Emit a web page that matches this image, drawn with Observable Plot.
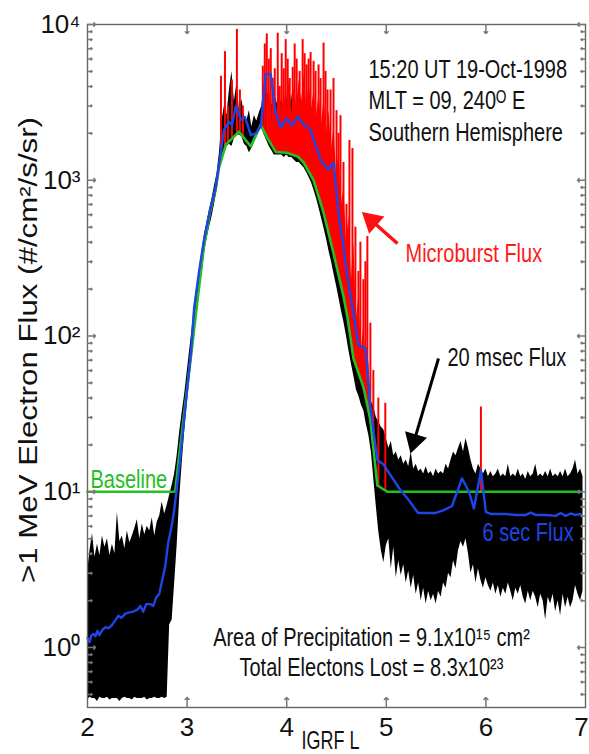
<!DOCTYPE html>
<html><head><meta charset="utf-8">
<script src="https://cdn.jsdelivr.net/npm/d3@7"></script>
<script src="https://cdn.jsdelivr.net/npm/@observablehq/plot@0.6"></script>
<style>body{margin:0;background:#fff}</style>
</head><body><div id="chart"></div>
<script>
// ---- 20 msec flux envelope, sampled every 0.025 L starting at L = 2.0 ----
const L20Start = 2.0, L20Step = 0.025;
const flux20Hi = [
  3.0,4.2,5.4,3.8,4.6,3.9,5.2,4.4,5.0,3.9,4.6,4.0,7.4,4.8,5.2,4.3,5.6,4.7,5.2,5.8,6.6,5.0,6.2,5.3,6.0,5.6,6.8,5.2,6.4,7.0,8.6,7.2,8.2,
  9.5,11,13,17,24,32,42,58,
  80,110,160,210,270,350,450,540,650,760,920,1100,
  1500,2400,3000,2600,3800,5000,3200,4200,2800,3300,2600,2400,2800,2200,2600,2400,2700,3000,4200,3800,3400,3000,3600,3200,2800,3400,2900,3500,
  2600,3600,2500,2700,2300,2200,2000,1800,1600,1500,1300,1150,1000,850,720,600,500,420,360,300,250,210,180,150,130,110,100,85,70,60,52,45,40,38,35,30,28,26,25,22,
  19,21,17,18,16,17,15,16,14.5,18,14,15,13.5,14,13,14.5,13,13.5,12.5,14,13,13.5,13,15,14,16,18,17,19,21,18,22,19,16,14,13,15,14,13,14,
  12.5,13.5,12.5,13,14,12.5,13,12.5,15,12.5,13,12.5,14,12.5,13,12,13.5,12.5,13,15,12.5,13,12.5,13.5,12.5,14,12.5,13,12.5,13.5,12.5,14,12.5,13,14,16,13,14,12.5
];
const flux20Lo = [
  0.46,0.48,0.47,0.47,0.45,0.48,0.47,0.47,0.48,0.46,0.47,0.47,0.47,0.45,0.47,0.48,0.47,0.47,0.46,0.48,0.47,0.47,0.47,0.48,0.46,0.47,0.47,0.48,0.47,0.47,0.48,0.47,0.48,
  1.4,1.5,2.6,4.5,9,15,24,36,
  52,72,105,140,190,250,340,420,500,580,700,850,
  1150,1350,1550,1650,1700,1650,1850,1950,1950,1900,1700,1650,1500,1600,1750,1900,2150,2150,1950,1800,1650,1550,1450,1450,1450,1450,1400,1450,
  1400,1400,1350,1300,1300,1250,1200,1120,1040,960,860,760,
  660,570,490,420,350,300,250,210,175,145,122,100,80,66,55,45,41,36,33,27,23,18,12,8,5.5,4.2,3.5,4.5,
  5.0,3.2,4.4,2.8,3.6,2.9,3.4,2.6,3.1,2.4,2.9,2.2,2.6,2.0,2.4,1.9,2.3,2.0,2.2,1.9,2.3,2.1,2.6,2.4,3.0,2.8,3.6,3.2,4.2,4.8,4.4,5.0,4.0,3.0,3.4,2.6,3.2,2.7,2.4,2.8,
  2.5,2.3,2.6,2.2,2.5,2.1,2.4,2.2,2.6,2.3,2.0,2.4,2.2,2.5,2.1,1.9,2.3,2.0,2.3,2.1,1.8,2.2,2.0,1.5,2.1,1.9,2.2,1.7,2.0,1.6,2.2,1.8,2.1,1.8,2.0,2.5,2.2,2.0,2.3
];

// ---- 6 sec flux (blue) ----
const L6 = [2.00,2.02,2.04,2.06,2.08,2.10,2.12,2.15,2.18,2.21,2.24,2.28,2.31,2.34,2.38,2.42,2.46,2.50,2.53,2.56,2.59,2.63,2.66,2.69,2.72,2.75,2.78,2.81,2.84,2.87,2.90,2.93,2.96,3.00,3.04,3.07,3.12,3.17,3.23,3.29,3.32,3.37,3.42,3.45,3.49,3.54,3.58,3.64,3.69,3.74,3.79,3.84,3.89,3.94,4.00,4.05,4.11,4.17,4.24,4.34,4.42,4.47,4.52,4.57,4.61,4.67,4.72,4.79,4.84,4.91,4.97,5.06,5.14,5.21,5.32,5.40,5.49,5.57,5.66,5.76,5.83,5.88,5.95,6.00,6.05,6.20,6.30,6.40,6.45,6.50,6.60,6.70,6.75,6.80,6.85,6.90,6.95];
const flux6 = [1.15,1.08,1.2,1.22,1.18,1.28,1.2,1.3,1.35,1.33,1.38,1.5,1.6,1.55,1.65,1.68,1.7,1.75,1.85,1.7,1.9,1.9,1.85,2.1,2.2,2.7,3.3,4.7,5.8,7.6,11,16,25,45,80,150,260,415,640,910,1250,2100,2380,2250,3000,2450,2550,1950,2000,2220,4800,4800,2700,2180,2500,2250,2560,2300,2100,1350,1170,1300,620,370,240,140,87,84,35,16,15,12.3,10.3,9.1,7.3,7.3,7.3,7.6,8.1,12.2,10,7.8,13.7,7.4,7.2,7.2,7.1,7.1,7.35,7.1,7.1,7.0,7.3,7.0,7.25,7.1,7.2];

// ---- Baseline (green) ----
const Lbase = [2.0,2.88,2.92,2.96,3.00,3.05,3.10,3.17,3.23,3.29,3.32,3.39,3.44,3.52,3.64,3.74,3.80,3.89,4.00,4.11,4.17,4.27,4.37,4.47,4.57,4.61,4.67,4.77,4.84,4.91,5.01,6.95];
const fluxBase = [10,10,17,28,46,85,160,380,620,900,1200,1700,1820,2050,1650,2270,1900,1520,1500,1420,1300,1000,620,340,180,132,72,47,29,11,10,10];

// ---- Microburst flux (red): isolated spikes and the dense part ----
const Lburst = [3.34,3.38,3.41,3.45,3.50,3.53,3.56,3.76,3.78,3.80,3.82,3.84,3.86,3.88,3.91,3.93,3.95,3.97,3.99,4.01,4.03,4.06,4.08,4.10,4.13,4.16,4.18,4.20,4.22,4.24,4.27,4.29,4.32,4.34,4.37,4.39,4.41,4.44,4.47,4.50,4.52,4.54,4.57,4.60,4.63,4.66,4.69,4.72,4.74,4.77,4.79,4.81,4.84,4.87,4.92,4.99,5.95];
const fluxBurst = [4650,6700,3000,4400,9300,3800,3000,5400,7500,8700,6000,7000,4500,5200,8800,4000,6500,5200,8000,6000,4500,5300,7500,6000,5000,8000,6500,5500,6000,6600,5800,5000,5500,4500,7600,5000,3800,3800,4500,2800,2000,2600,1300,700,1800,1600,500,260,400,230,300,435,121,60,40,37,35];
const LburstFill = [3.800,3.825,3.850,3.875,3.900,3.925,3.950,3.975,4.000,4.025,4.050,4.075,4.100,4.125,4.150,4.175,4.200,4.225,4.250,4.275,4.300,4.325,4.350,4.375,4.400,4.425,4.450,4.475,4.500,4.525,4.550,4.575,4.600,4.625,4.650,4.675,4.700,4.725,4.750,4.775,4.800,4.825,4.850,4.875,4.900];
const fluxBurstFill = [2600,4000,2400,3600,2500,4200,2600,3800,2800,4500,2700,4000,3000,4400,3200,4800,3000,4200,2900,3800,2600,3600,2300,3400,2000,2800,1600,2200,1100,1500,700,900,400,600,230,400,130,180,80,120,50,70,30,25,15];

// ---- axes / texts ----
const xTicks = [2,3,4,5,6,7];
const yTicks = [1,10,100,1000,10000];
const yDomain = [0.412, 10000];
const supDigits = ["⁰","¹","²","³","⁴"];
const yLabel = ">1 MeV Electron Flux (#/cm²/s/sr)";
const xLabel = "IGRF L";
const infoLines = ["15:20 UT 19-Oct-1998", "MLT = 09, 240ᴼ E", "Southern Hemisphere"];
const statLines = ["Area of Precipitation = 9.1x10¹⁵ cm²", "Total Electons Lost = 8.3x10²³"];
const seriesLabels = ["Microburst Flux", "20 msec Flux", "6 sec Flux", "Baseline"];

// ---- build tables ----
const d20 = flux20Hi.map((hi, i) => ({L: L20Start + i * L20Step, hi, lo: flux20Lo[i]}));
const six = L6.map((L, i) => ({L, flux: flux6[i]}));
const base = Lbase.map((L, i) => ({L, flux: fluxBase[i]}));
const baseAt = (L) => {
  const i = d3.bisectRight(Lbase, L);
  if (i <= 0) return fluxBase[0];
  if (i >= Lbase.length) return fluxBase[fluxBase.length - 1];
  const t = (L - Lbase[i - 1]) / (Lbase[i] - Lbase[i - 1]);
  return 10 ** (Math.log10(fluxBase[i - 1]) * (1 - t) + Math.log10(fluxBase[i]) * t);
};
const burst = Lburst.map((L, i) => ({L, top: fluxBurst[i], bottom: baseAt(L)}));
const burstFill = LburstFill.map((L, i) => ({L, top: fluxBurstFill[i], bottom: baseAt(L)}));
const yMinor = d3.range(-1, 4).flatMap(e => d3.range(2, 10).map(m => m * 10 ** e)).filter(v => v >= yDomain[0] && v <= yDomain[1]);

const tickColor = "#777";
const note = (text, L, flux, o = {}) => Plot.text([text], {x: () => L, y: () => flux, text: d => d, fontSize: 20, lineAnchor: "middle", textAnchor: "start", ...o});

const chart = Plot.plot({
  width: 589, height: 754,
  marginLeft: 87, marginRight: 4, marginTop: 24, marginBottom: 47,
  x: {domain: [2, 7], label: null},
  y: {type: "log", domain: yDomain, label: null},
  style: {fontFamily: "'Liberation Sans', Arial, Helvetica, sans-serif", background: "#fff", color: "#111", overflow: "visible"},
  marks: [
    Plot.areaY(d20, {x: "L", y1: "lo", y2: "hi", fill: "#000", curve: "linear"}),
    Plot.areaY(burstFill, {x: "L", y1: "bottom", y2: "top", fill: "#ff0000", curve: "linear"}),
    Plot.ruleX(burst, {x: "L", y1: "bottom", y2: "top", stroke: "#ff0000", strokeWidth: 2}),
    Plot.line(base, {x: "L", y: "flux", stroke: "#22c022", strokeWidth: 2.6}),
    Plot.line(six, {x: "L", y: "flux", stroke: "#1f45e6", strokeWidth: 2.4}),
    // arrows
    Plot.link([0], {x1: () => 5.112, y1: () => 392.6, x2: () => 4.854, y2: () => 550, stroke: "#ff1010", strokeWidth: 3.5}),
    Plot.dot([0], {x: () => 4.854, y: () => 550, symbol: "triangle", r: 8.5, rotate: -48.5, fill: "#ff1010", stroke: null}),
    Plot.link([0], {x1: () => 5.524, y1: () => 71.7, x2: () => 5.280, y2: () => 21.2, stroke: "#000", strokeWidth: 3}),
    Plot.dot([0], {x: () => 5.280, y: () => 21.2, symbol: "triangle", r: 8.5, rotate: -163.6, fill: "#000", stroke: null}),
    // frame + inward ticks
    Plot.frame({stroke: "#666", strokeWidth: 1.4}),
    Plot.vector(yTicks, {y: d => d, frameAnchor: "left", length: 8, rotate: 90, anchor: "start", stroke: tickColor}),
    Plot.vector(yMinor, {y: d => d, frameAnchor: "left", length: 4.5, rotate: 90, anchor: "start", stroke: tickColor}),
    Plot.vector(yTicks, {y: d => d, frameAnchor: "right", length: 8, rotate: -90, anchor: "start", stroke: tickColor}),
    Plot.vector(yMinor, {y: d => d, frameAnchor: "right", length: 4.5, rotate: -90, anchor: "start", stroke: tickColor}),
    Plot.vector(xTicks.slice(1, -1), {x: d => d, frameAnchor: "bottom", length: 10, rotate: 0, anchor: "start", stroke: tickColor}),
    Plot.vector(xTicks.slice(1, -1), {x: d => d, frameAnchor: "top", length: 9, rotate: 180, anchor: "start", stroke: tickColor}),
    Plot.axisY(yTicks, {anchor: "left", tickSize: 0, tickPadding: 7, fontSize: 26, label: null,
      tickFormat: d => "10" + supDigits[Math.round(Math.log10(d))]}),
    Plot.axisX(xTicks.slice(0, -1), {anchor: "bottom", tickSize: 0, tickPadding: 10, fontSize: 26, label: null, tickFormat: d => String(d)}),
    Plot.axisX(xTicks.slice(-1), {anchor: "bottom", tickSize: 0, tickPadding: 10, fontSize: 26, label: null, dx: -4, tickFormat: d => String(d)}),
    Plot.text([yLabel], {frameAnchor: "left", dx: -59, dy: -16, rotate: -90, text: d => d, fontSize: 25, lineAnchor: "middle", textAnchor: "middle"}),
    Plot.text([xLabel], {frameAnchor: "bottom", dx: -6, dy: 33, text: d => d, fontSize: 18, lineAnchor: "middle", textAnchor: "middle"}),
    // annotations
    note(infoLines[0], 4.821, 5164),
    note(infoLines[1], 4.821, 3266),
    note(infoLines[2], 4.821, 2035),
    note(seriesLabels[0], 5.193, 340, {fill: "#ff1a1a"}),
    note(seriesLabels[1], 5.614, 73.1),
    note(seriesLabels[2], 5.966, 5.50, {fill: "#1f45e6"}),
    note(seriesLabels[3], 2.030, 12.04, {fill: "#1fbf1f"}),
    note(statLines[0], 4.851, 1.164, {textAnchor: "middle"}),
    note(statLines[1], 4.851, 0.747, {textAnchor: "middle"})
  ]
});

document.getElementById("chart").append(chart);

// vertical stretch of the annotation lettering (the original figure's text is tall and narrow)
const stretch = new Map([[yLabel, 1.25], [xLabel, 1.45]]);
chart.querySelectorAll('g[aria-label="text"] text').forEach(t => {
  const s = stretch.get(t.textContent) ?? 1.3;
  const r = t.getBoundingClientRect();
  const pm = t.parentNode.getScreenCTM();
  const cy = (r.top + r.height / 2 - pm.f) / pm.d;
  const g = document.createElementNS("http://www.w3.org/2000/svg", "g");
  g.setAttribute("transform", `translate(0 ${cy}) scale(1 ${s}) translate(0 ${-cy})`);
  t.parentNode.insertBefore(g, t);
  g.appendChild(t);
});
</script>
</body></html>
